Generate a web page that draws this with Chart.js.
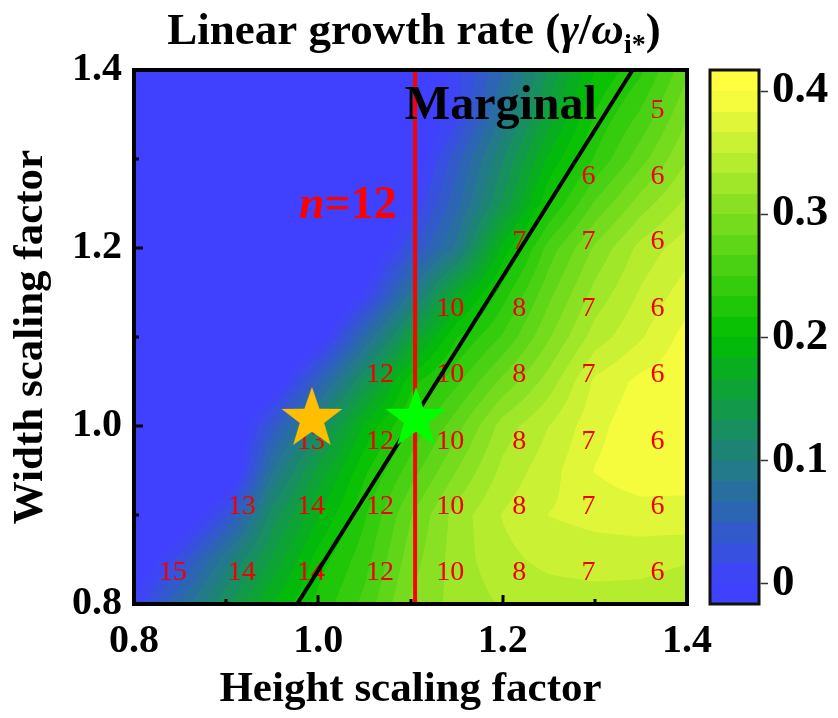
<!DOCTYPE html>
<html>
<head>
<meta charset="utf-8">
<script src="https://cdn.jsdelivr.net/npm/chart.js@4.4.1/dist/chart.umd.min.js"></script>
<style>
  html, body { margin: 0; padding: 0; background: #ffffff; }
  canvas { display: block; }
</style>
</head>
<body>
<canvas id="chart" width="838" height="718"></canvas>
<script>
// Sample grid of the scan: height factors (x) and width factors (y)
const heightFactors = [0.80, 0.85, 0.90, 0.95, 1.00, 1.05, 1.10, 1.15, 1.20, 1.25, 1.30, 1.35, 1.40];
const widthFactors  = [0.80, 0.85, 0.90, 0.95, 1.00, 1.05, 1.10, 1.15, 1.20, 1.25, 1.30, 1.35, 1.40];

// Linear growth rate gamma/omega_i*, one row per width factor (bottom row first)
const growthRate = [
  [ 0.003,  0.070,  0.130,  0.184,  0.222,  0.255,  0.302,  0.323,  0.335,  0.340,  0.342,  0.340,  0.333],
  [-0.030,  0.024,  0.093,  0.153,  0.208,  0.243,  0.292,  0.325,  0.345,  0.355,  0.358,  0.358,  0.352],
  [-0.050, -0.030,  0.029,  0.124,  0.182,  0.231,  0.282,  0.324,  0.351,  0.367,  0.372,  0.375,  0.378],
  [-0.050, -0.050, -0.040,  0.082,  0.155,  0.213,  0.258,  0.300,  0.338,  0.360,  0.384,  0.395,  0.390],
  [-0.050, -0.050, -0.036,  0.039,  0.114,  0.186,  0.235,  0.277,  0.324,  0.350,  0.378,  0.395,  0.395],
  [-0.050, -0.050, -0.050, -0.021,  0.054,  0.133,  0.210,  0.246,  0.288,  0.324,  0.370,  0.388,  0.395],
  [-0.050, -0.050, -0.050, -0.050, -0.017,  0.067,  0.150,  0.215,  0.252,  0.298,  0.341,  0.365,  0.390],
  [-0.050, -0.050, -0.050, -0.050, -0.050,  0.000,  0.083,  0.167,  0.225,  0.278,  0.322,  0.352,  0.375],
  [-0.050, -0.050, -0.050, -0.050, -0.050, -0.031,  0.029,  0.088,  0.189,  0.257,  0.303,  0.339,  0.360],
  [-0.050, -0.050, -0.050, -0.050, -0.050, -0.050, -0.003,  0.061,  0.136,  0.215,  0.269,  0.308,  0.338],
  [-0.050, -0.050, -0.050, -0.050, -0.050, -0.050, -0.025,  0.044,  0.115,  0.187,  0.235,  0.277,  0.316],
  [-0.050, -0.050, -0.050, -0.050, -0.050, -0.050, -0.040,  0.010,  0.087,  0.157,  0.218,  0.253,  0.298],
  [-0.050, -0.050, -0.050, -0.050, -0.050, -0.050, -0.040,  0.011,  0.064,  0.135,  0.200,  0.230,  0.280]
];

// Dominant toroidal mode number n in each scanned cell (bottom row first)
const modeColumns = [0.842, 0.917, 0.992, 1.067, 1.143, 1.218, 1.293, 1.368];
const modeRows    = [0.836, 0.910, 0.984, 1.059, 1.133, 1.208, 1.281, 1.356];
const modeNumbers = [
  [15,   14,   14,   12,   10,   8,    7,    6],
  [null, 13,   14,   12,   10,   8,    7,    6],
  [null, null, 13,   12,   10,   8,    7,    6],
  [null, null, null, 12,   10,   8,    7,    6],
  [null, null, null, null, 10,   8,    7,    6],
  [null, null, null, null, null, 7,    7,    6],
  [null, null, null, null, null, null, 6,    6],
  [null, null, null, null, null, null, null, 5]
];

// Reference lines and marked cases
const nTwelveHeight = [1.105, 1.105];
const nTwelveWidth  = [0.80, 1.40];
const marginalHeight = [0.977, 1.341];
const marginalWidth  = [0.80, 1.40];
const baseCase  = { x: 0.993, y: 1.008 };
const n12Case   = { x: 1.106, y: 1.008 };

// Axis and colour-bar ticks
const axisTicks = [0.8, 0.9, 1.0, 1.1, 1.2, 1.3, 1.4];
const axisTickLabels = ['0.8', '', '1.0', '', '1.2', '', '1.4'];
const colorTicks = [0, 0.1, 0.2, 0.3, 0.4];
const colorTickLabels = ['0', '0.1', '0.2', '0.3', '0.4'];

// Contour levels: steps of 1/60 from -1/60 to 25/60
const levelStep = 1 / 60;
const levelMin = -1 / 60;
const levelCount = 26;
const levelMax = levelMin + levelCount * levelStep;

const SERIF = '"Liberation Serif", "Times New Roman", Times, serif';

// blue -> green -> yellow colour map, saturating at 0 and 0.4
const colorStops = [
  [0.0, [64, 64, 255]],
  [0.2, [0, 190, 0]],
  [0.4, [255, 255, 64]]
];
function colorMap(v) {
  const t = Math.min(0.4, Math.max(0, v));
  for (let i = 0; i < colorStops.length - 1; i++) {
    const [a, ca] = colorStops[i];
    const [b, cb] = colorStops[i + 1];
    if (t <= b) {
      const f = (t - a) / (b - a);
      return [0, 1, 2].map(k => Math.round(ca[k] + (cb[k] - ca[k]) * f));
    }
  }
  return colorStops[colorStops.length - 1][1];
}
const bandColors = [];
for (let k = 0; k < levelCount; k++) {
  bandColors.push(colorMap(levelMin + (k + 0.5) * levelStep));
}
function bandIndex(v) {
  const k = Math.floor((v - levelMin) / levelStep);
  return Math.max(0, Math.min(levelCount - 1, k));
}

function locate(arr, v) {
  let i = 0;
  while (i < arr.length - 2 && v > arr[i + 1]) i++;
  const t = (v - arr[i]) / (arr[i + 1] - arr[i]);
  return [i, Math.max(0, Math.min(1, t))];
}
function sampleGrowth(xv, yv) {
  const [i, tx] = locate(heightFactors, xv);
  const [j, ty] = locate(widthFactors, yv);
  const g00 = growthRate[j][i], g10 = growthRate[j][i + 1];
  const g01 = growthRate[j + 1][i], g11 = growthRate[j + 1][i + 1];
  return (g00 * (1 - tx) + g10 * tx) * (1 - ty) + (g01 * (1 - tx) + g11 * tx) * ty;
}

// Filled contour map of the growth rate plus the mode-number labels
const fieldPlugin = {
  id: 'growthField',
  beforeDatasetsDraw(chart) {
    const { ctx, chartArea: a, scales: { x: xs, y: ys } } = chart;
    const w = Math.round(a.right - a.left), h = Math.round(a.bottom - a.top);
    const off = document.createElement('canvas');
    off.width = w; off.height = h;
    const octx = off.getContext('2d');
    const img = octx.createImageData(w, h);
    const sub = [0.25, 0.75];
    for (let j = 0; j < h; j++) {
      for (let i = 0; i < w; i++) {
        let r = 0, g = 0, b = 0;
        for (const sy of sub) {
          const yv = ys.getValueForPixel(a.top + j + sy);
          for (const sx of sub) {
            const xv = xs.getValueForPixel(a.left + i + sx);
            const c = bandColors[bandIndex(sampleGrowth(xv, yv))];
            r += c[0]; g += c[1]; b += c[2];
          }
        }
        const p = (j * w + i) * 4;
        img.data[p] = r / 4; img.data[p + 1] = g / 4; img.data[p + 2] = b / 4; img.data[p + 3] = 255;
      }
    }
    octx.putImageData(img, 0, 0);
    ctx.drawImage(off, a.left, a.top);

    ctx.save();
    ctx.fillStyle = '#f00000';
    ctx.font = '28px ' + SERIF;
    ctx.textAlign = 'center';
    ctx.textBaseline = 'middle';
    modeNumbers.forEach((row, r) => {
      row.forEach((n, c) => {
        if (n === null) return;
        ctx.fillText(String(n), xs.getPixelForValue(modeColumns[c]), ys.getPixelForValue(modeRows[r]) + 1);
      });
    });
    ctx.restore();
  },
  afterDatasetsDraw(chart) {
    const { ctx, chartArea: a, scales: { x: xs, y: ys } } = chart;
    ctx.save();
    // "Marginal" label
    ctx.fillStyle = '#000';
    ctx.font = 'bold 48px ' + SERIF;
    ctx.textAlign = 'center';
    ctx.textBaseline = 'alphabetic';
    ctx.fillText('Marginal', xs.getPixelForValue(1.198), ys.getPixelForValue(1.345));

    // "n=12" label
    ctx.fillStyle = '#ff0000';
    const f1 = 'italic bold 46px ' + SERIF, f2 = 'bold 46px ' + SERIF;
    ctx.font = f1; const wn = ctx.measureText('n').width;
    ctx.font = f2; const wr = ctx.measureText('=12').width;
    let x0 = xs.getPixelForValue(1.032) - (wn + wr) / 2;
    const yb = ys.getPixelForValue(1.234);
    ctx.textAlign = 'left';
    ctx.font = f1; ctx.fillText('n', x0, yb);
    ctx.font = f2; ctx.fillText('=12', x0 + wn, yb);

    // inward tick marks
    ctx.strokeStyle = '#000';
    ctx.lineWidth = 3;
    axisTicks.forEach((v, i) => {
      const len = i % 2 === 0 ? 9 : 5;
      const px = Math.round(xs.getPixelForValue(v));
      ctx.beginPath(); ctx.moveTo(px, a.bottom); ctx.lineTo(px, a.bottom - len); ctx.stroke();
      const py = Math.round(ys.getPixelForValue(v));
      ctx.beginPath(); ctx.moveTo(a.left, py); ctx.lineTo(a.left + len, py); ctx.stroke();
    });
    // frame
    ctx.lineWidth = 4;
    ctx.strokeRect(a.left, a.top, a.right - a.left, a.bottom - a.top);
    ctx.restore();
  },
  afterDraw(chart) {
    const { ctx, scales: { cb } } = chart;
    ctx.save();
    // colour bar
    const barL = cb.left + 23, barW = 49;
    for (let k = 0; k < levelCount; k++) {
      const lo = levelMin + k * levelStep, hi = lo + levelStep;
      const y1 = cb.getPixelForValue(hi), y0 = cb.getPixelForValue(lo);
      const c = bandColors[k];
      ctx.fillStyle = `rgb(${c[0]},${c[1]},${c[2]})`;
      ctx.fillRect(barL, Math.floor(y1), barW, Math.ceil(y0) - Math.floor(y1));
    }
    ctx.strokeStyle = '#111';
    ctx.lineWidth = 3;
    ctx.strokeRect(barL, cb.top, barW, cb.bottom - cb.top);
    ctx.lineWidth = 1.5;
    ctx.strokeStyle = '#333';
    colorTicks.forEach(v => {
      const py = Math.round(cb.getPixelForValue(v)) + 0.5;
      ctx.beginPath(); ctx.moveTo(barL + barW + 1.5, py); ctx.lineTo(barL + barW + 9, py); ctx.stroke();
    });

    // title with Greek symbols and subscript
    const big = 'bold 45px ' + SERIF, ital = 'italic bold 45px ' + SERIF, small = 'bold 28px ' + SERIF;
    const parts = [
      { t: 'Linear growth rate (', f: big, dy: 0 },
      { t: 'γ', f: ital, dy: 0 },
      { t: '/', f: big, dy: 0 },
      { t: 'ω', f: ital, dy: 0 },
      { t: 'i*', f: small, dy: 9 },
      { t: ')', f: big, dy: 0 }
    ];
    let total = 0;
    parts.forEach(p => { ctx.font = p.f; p.w = ctx.measureText(p.t).width; total += p.w; });
    let tx = 414 - total / 2;
    const ty = 44;
    ctx.fillStyle = '#000';
    ctx.textAlign = 'left';
    ctx.textBaseline = 'alphabetic';
    parts.forEach(p => { ctx.font = p.f; ctx.fillText(p.t, tx, ty + p.dy); tx += p.w; });
    ctx.restore();
  }
};

// Filled five-point star used as a point marker
function starImage(fill, R) {
  const c = document.createElement('canvas');
  const s = Math.ceil(2 * R + 4);
  c.width = s; c.height = s;
  const g = c.getContext('2d');
  const cx = s / 2, cy = s / 2, r = R * 0.4;
  g.beginPath();
  for (let k = 0; k < 10; k++) {
    const rad = k % 2 === 0 ? R : r;
    const ang = -Math.PI / 2 + k * Math.PI / 5;
    const px = cx + rad * Math.cos(ang), py = cy + rad * Math.sin(ang);
    if (k === 0) g.moveTo(px, py); else g.lineTo(px, py);
  }
  g.closePath();
  g.fillStyle = fill;
  g.fill();
  return c;
}

const tickFont = { family: SERIF, size: 40, weight: 'bold' };
const barTickFont = { family: SERIF, size: 45, weight: 'bold' };
const titleFont = { family: SERIF, size: 43, weight: 'bold' };

new Chart(document.getElementById('chart'), {
  type: 'scatter',
  data: {
    datasets: [
      {
        label: 'n = 12 case',
        data: [n12Case],
        pointStyle: starImage('#00ff00', 32),
        pointRadius: 32
      },
      {
        label: 'base case',
        data: [baseCase],
        pointStyle: starImage('#ffbf00', 32),
        pointRadius: 32
      },
      {
        type: 'line',
        label: 'Marginal',
        data: marginalHeight.map((x, i) => ({ x, y: marginalWidth[i] })),
        borderColor: '#000000',
        borderWidth: 4,
        pointRadius: 0,
        fill: false
      },
      {
        type: 'line',
        label: 'n = 12',
        data: nTwelveHeight.map((x, i) => ({ x, y: nTwelveWidth[i] })),
        borderColor: '#ff0000',
        borderWidth: 4,
        pointRadius: 0,
        fill: false
      }
    ]
  },
  options: {
    responsive: false,
    animation: false,
    devicePixelRatio: 1,
    events: [],
    layout: { padding: { top: 70, left: 0, right: 0, bottom: 0 } },
    plugins: { legend: { display: false }, title: { display: false }, tooltip: { enabled: false } },
    scales: {
      x: {
        type: 'linear', min: 0.8, max: 1.4,
        afterBuildTicks: s => { s.ticks = axisTicks.map(v => ({ value: v })); },
        afterFit: s => { s.height = 114; },
        grid: { display: false, drawTicks: false },
        border: { display: false },
        ticks: {
          autoSkip: false, maxRotation: 0, padding: 14, color: '#000', font: tickFont,
          callback: (v, i) => axisTickLabels[i]
        },
        title: { display: true, text: 'Height scaling factor', color: '#000', font: titleFont, padding: { top: 0, bottom: 2 } }
      },
      y: {
        type: 'linear', min: 0.8, max: 1.4,
        afterBuildTicks: s => { s.ticks = axisTicks.map(v => ({ value: v })); },
        afterFit: s => { s.width = 134; },
        grid: { display: false, drawTicks: false },
        border: { display: false },
        ticks: {
          autoSkip: false, padding: 12, color: '#000', font: tickFont,
          callback: (v, i) => axisTickLabels[i]
        },
        title: { display: true, text: 'Width scaling factor', color: '#000', font: titleFont, padding: { top: 5, bottom: 0 } }
      },
      cb: {
        type: 'linear', position: 'right', min: levelMin, max: levelMax,
        afterBuildTicks: s => { s.ticks = colorTicks.map(v => ({ value: v })); },
        afterFit: s => { s.width = 151; },
        grid: { drawOnChartArea: false, drawTicks: true, tickLength: 80, color: 'rgba(0,0,0,0)' },
        border: { display: false },
        ticks: {
          autoSkip: false, padding: 5, color: '#000', font: barTickFont,
          callback: (v, i) => colorTickLabels[i]
        }
      }
    }
  },
  plugins: [fieldPlugin]
});
</script>
</body>
</html>
